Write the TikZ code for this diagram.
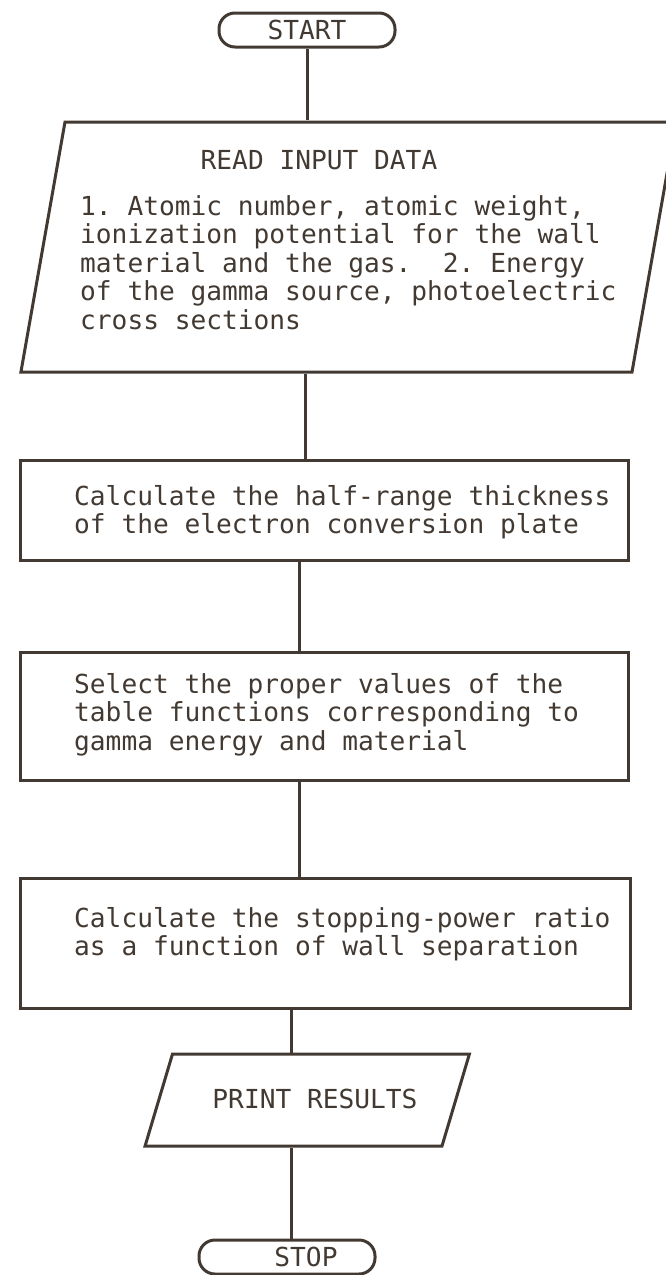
\documentclass[tikz,border=0pt]{standalone}
\usepackage{fontspec}
\setmonofont{DejaVu Sans Mono}
\usetikzlibrary{positioning,shapes.geometric}
\definecolor{ink}{RGB}{66,58,50}

\begin{document}
\begin{tikzpicture}[x=1pt, y=-1pt,
  every node/.style={font=\fontsize{26.2}{28.5}\selectfont\ttfamily, text=ink},
  term/.style={draw=ink, line width=3pt, rounded corners=16pt, minimum width=176pt,
               minimum height=34pt, inner sep=0pt},
  proc/.style={draw=ink, line width=3pt, minimum width=608pt, inner sep=0pt},
  io/.style={draw=ink, line width=3pt, trapezium},
  txt/.style={align=left, anchor=north west, inner sep=0pt},
  flow/.style={draw=ink, line width=3pt}]
  \useasboundingbox (0,0) rectangle (665,1275);
  \node[term] (start) at (307,30) {START};
  \node[io, trapezium left angle=80, trapezium right angle=100,
        inner xsep=283.5pt, inner ysep=125pt] (read) at (348.5,247) {};
  \node[anchor=base, inner sep=0pt] (readhd) at (319,169.5) {READ INPUT DATA};
  \node[txt] (readtx) at (80,195) {1. Atomic number, atomic weight,\\
    ionization potential for the wall\\
    material and the gas.~~2. Energy\\
    of the gamma source, photoelectric\\
    cross sections};
  \node[proc, minimum height=100pt] (half) at (324,510) {};
  \node[txt] (halftx) at (74,485) {Calculate the half-range thickness\\
    of the electron conversion plate};
  \node[proc, minimum height=128pt] (table) at (324,716) {};
  \node[txt] (tabletx) at (74,673) {Select the proper values of the\\
    table functions corresponding to\\
    gamma energy and material};
  \node[proc, minimum width=610pt, minimum height=130pt] (ratio) at (325,943) {};
  \node[txt] (ratiotx) at (74,907) {Calculate the stopping-power ratio\\
    as a function of wall separation};
  \node[io, trapezium left angle=73.4, trapezium right angle=106.6,
        inner xsep=134.75pt, inner ysep=46pt] (print) at (307.25,1100) {};
  \node[anchor=base, inner sep=0pt] (printtx) at (315,1108.5) {PRINT RESULTS};
  \node[term] (stop) at (287,1257) {\hspace*{38pt}STOP};
  % connectors
  \coordinate (spinea) at (305,0);
  \coordinate (spineb) at (299,0);
  \coordinate (spinec) at (291,0);
  \draw[flow] (start.south) -- (start.south |- read.north);
  \draw[flow] (spinea |- read.south) -- (spinea |- half.north);
  \draw[flow] (spineb |- half.south) -- (spineb |- table.north);
  \draw[flow] (spineb |- table.south) -- (spineb |- ratio.north);
  \draw[flow] (spinec |- ratio.south) -- (spinec |- print.north);
  \draw[flow] (spinec |- print.south) -- (spinec |- stop.north);
\end{tikzpicture}
\end{document}
